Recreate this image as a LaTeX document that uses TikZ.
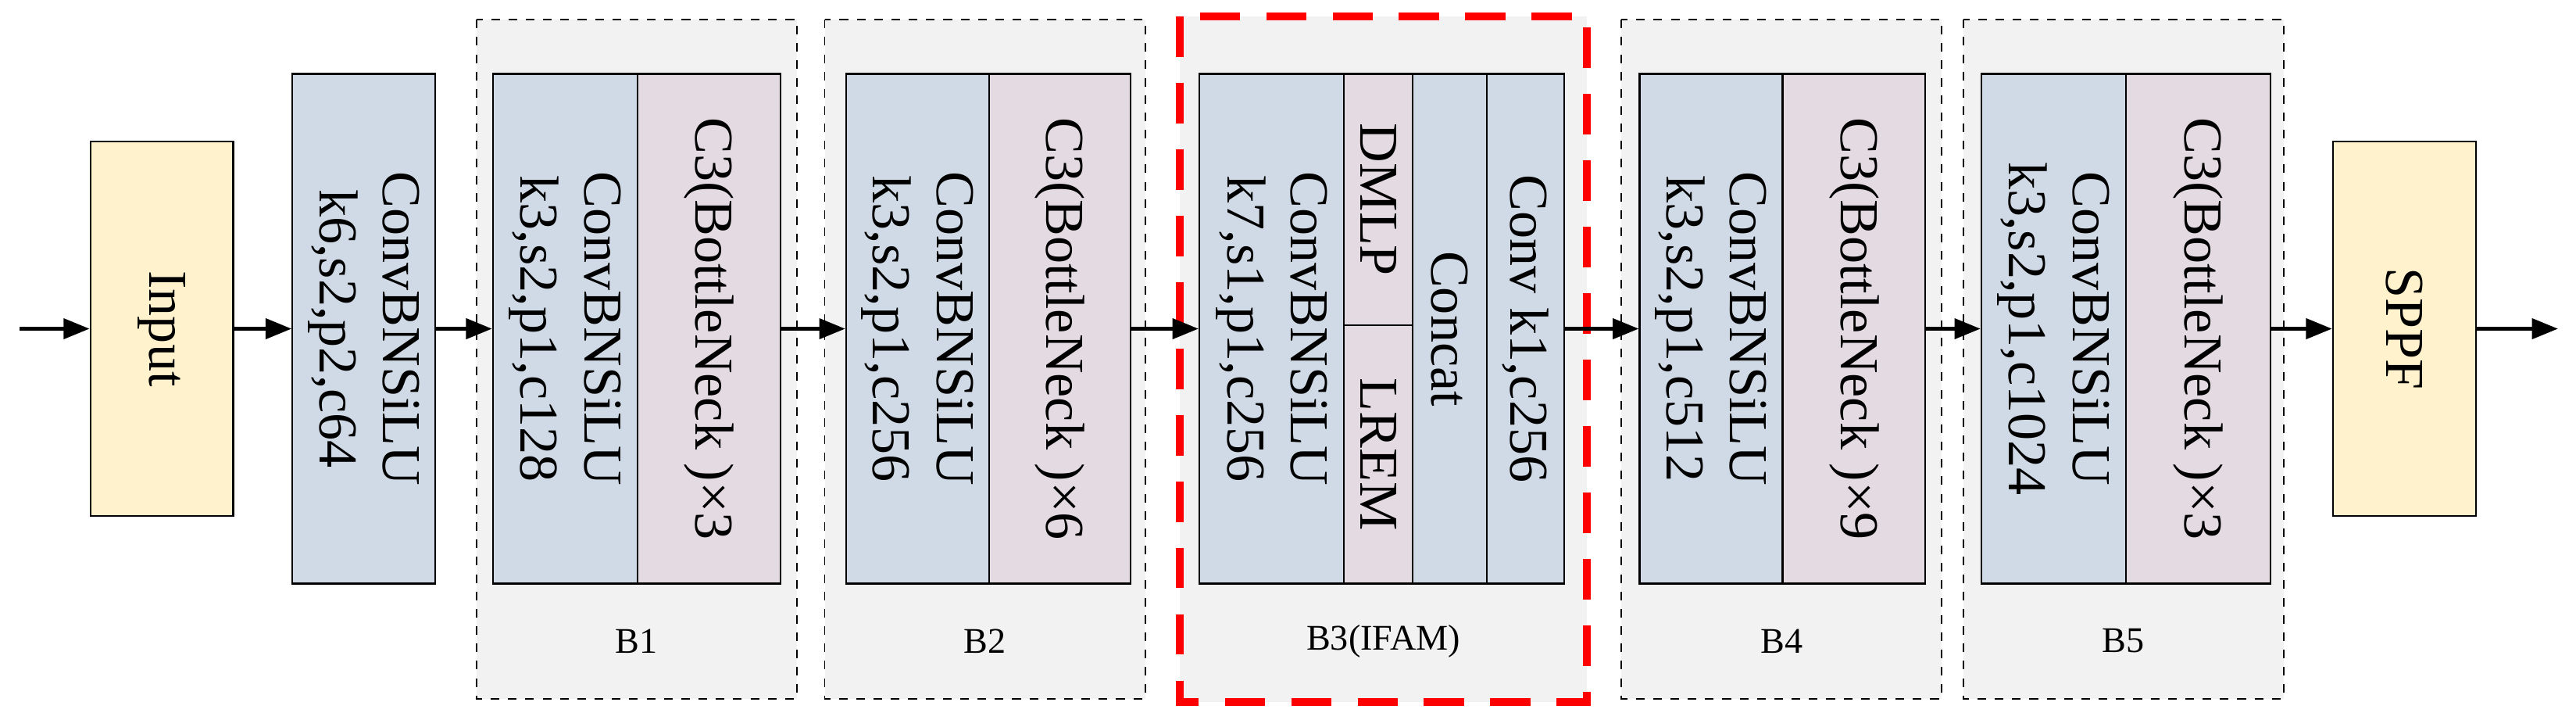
\documentclass[tikz,border=0pt]{standalone}
\usepackage{fontspec}
\setmainfont{Liberation Serif}
\usetikzlibrary{arrows.meta}
\definecolor{inyel}{HTML}{FFF2CC}
\definecolor{cvblue}{HTML}{D0DAE6}
\definecolor{cpink}{HTML}{E4DAE2}
\definecolor{frgrey}{HTML}{F2F2F2}
\tikzset{
  blk/.style={draw, rectangle, rotate=-90, align=center, inner sep=0pt, line width=0.6pt,
    font=\fontsize{19}{22}\selectfont},
  conv/.style={blk, fill=cvblue},
  cthree/.style={blk, fill=cpink},
  io/.style={blk, fill=inyel},
  frame/.style={draw, dashed, fill=frgrey, line width=0.5pt},
  flow/.style={-{Triangle[length=9pt,width=7pt]}, line width=1.2pt},
  tag/.style={font=\fontsize{12.5}{14}\selectfont}
}
\begin{document}
\begin{tikzpicture}[x=0.02cm, y=-0.02cm]
  \useasboundingbox (0,0) rectangle (1568,438);
  % stage frames
  \draw[frame] (290,12) rectangle (485,425);
  \draw[frame] (502,12) rectangle (697,425);
  \fill[frgrey] (718,10) rectangle (966,427);
  \draw[red, line width=2.6pt, dash pattern=on 14pt off 9pt] (718,10) rectangle (966,427);
  \draw[frame] (987,12) rectangle (1182,425);
  \draw[frame] (1195,12) rectangle (1390,425);
  \node[tag] (t1) at (387.5,390) {B1};
  \node[tag] (t2) at (599.5,390) {B2};
  \node[tag] (t3) at (842,390) {B3(IFAM)};
  \node[tag] (t4) at (1084.5,390) {B4};
  \node[tag] (t5) at (1292.5,390) {B5};

  % blocks
  \node[io, minimum width=228*0.02cm, minimum height=87*0.02cm] (inp) at (98.5,200) {Input};
  \node[conv, minimum width=310*0.02cm, minimum height=87*0.02cm] (c0) at (221.5,200) {ConvBNSiLU\\k6,s2,p2,c64};
  \node[conv, minimum width=310*0.02cm, minimum height=88*0.02cm] (b1a) at (344,200) {ConvBNSiLU\\k3,s2,p1,c128};
  \node[cthree, minimum width=310*0.02cm, minimum height=87*0.02cm] (b1b) at (431.5,200) {C3(BottleNeck )×3};
  \node[conv, minimum width=310*0.02cm, minimum height=87*0.02cm] (b2a) at (558.5,200) {ConvBNSiLU\\k3,s2,p1,c256};
  \node[cthree, minimum width=310*0.02cm, minimum height=86*0.02cm] (b2b) at (645,200) {C3(BottleNeck )×6};
  \node[conv, minimum width=310*0.02cm, minimum height=88*0.02cm] (b3a) at (774,200) {ConvBNSiLU\\k7,s1,p1,c256};
  \node[cthree, minimum width=153*0.02cm, minimum height=42*0.02cm] (dmlp) at (839,121.5) {DMLP};
  \node[cthree, minimum width=157*0.02cm, minimum height=42*0.02cm] (lrem) at (839,276.5) {LREM};
  \node[conv, minimum width=310*0.02cm, minimum height=45*0.02cm] (cat) at (882.5,200) {Concat};
  \node[conv, minimum width=310*0.02cm, minimum height=47*0.02cm] (b3c) at (928.5,200) {Conv k1,c256};
  \node[conv, minimum width=310*0.02cm, minimum height=87*0.02cm] (b4a) at (1041.5,200) {ConvBNSiLU\\k3,s2,p1,c512};
  \node[cthree, minimum width=310*0.02cm, minimum height=87*0.02cm] (b4b) at (1128.5,200) {C3(BottleNeck )×9};
  \node[conv, minimum width=310*0.02cm, minimum height=88*0.02cm] (b5a) at (1250,200) {ConvBNSiLU\\k3,s2,p1,c1024};
  \node[cthree, minimum width=310*0.02cm, minimum height=88*0.02cm] (b5b) at (1338,200) {C3(BottleNeck )×3};
  \node[io, minimum width=228*0.02cm, minimum height=87*0.02cm] (sppf) at (1463.5,200) {SPPF};

  % data flow
  \coordinate (src) at (12,200);
  \coordinate (dst) at (1557,200);
  \draw[flow] (src) -- (inp);
  \draw[flow] (inp) -- (c0);
  \draw[flow] (c0) -- (b1a);
  \draw[flow] (b1b) -- (b2a);
  \draw[flow] (b2b) -- (b3a);
  \draw[flow] (b3c) -- (b4a);
  \draw[flow] (b4b) -- (b5a);
  \draw[flow] (b5b) -- (sppf);
  \draw[flow] (sppf) -- (dst);
\end{tikzpicture}
\end{document}
